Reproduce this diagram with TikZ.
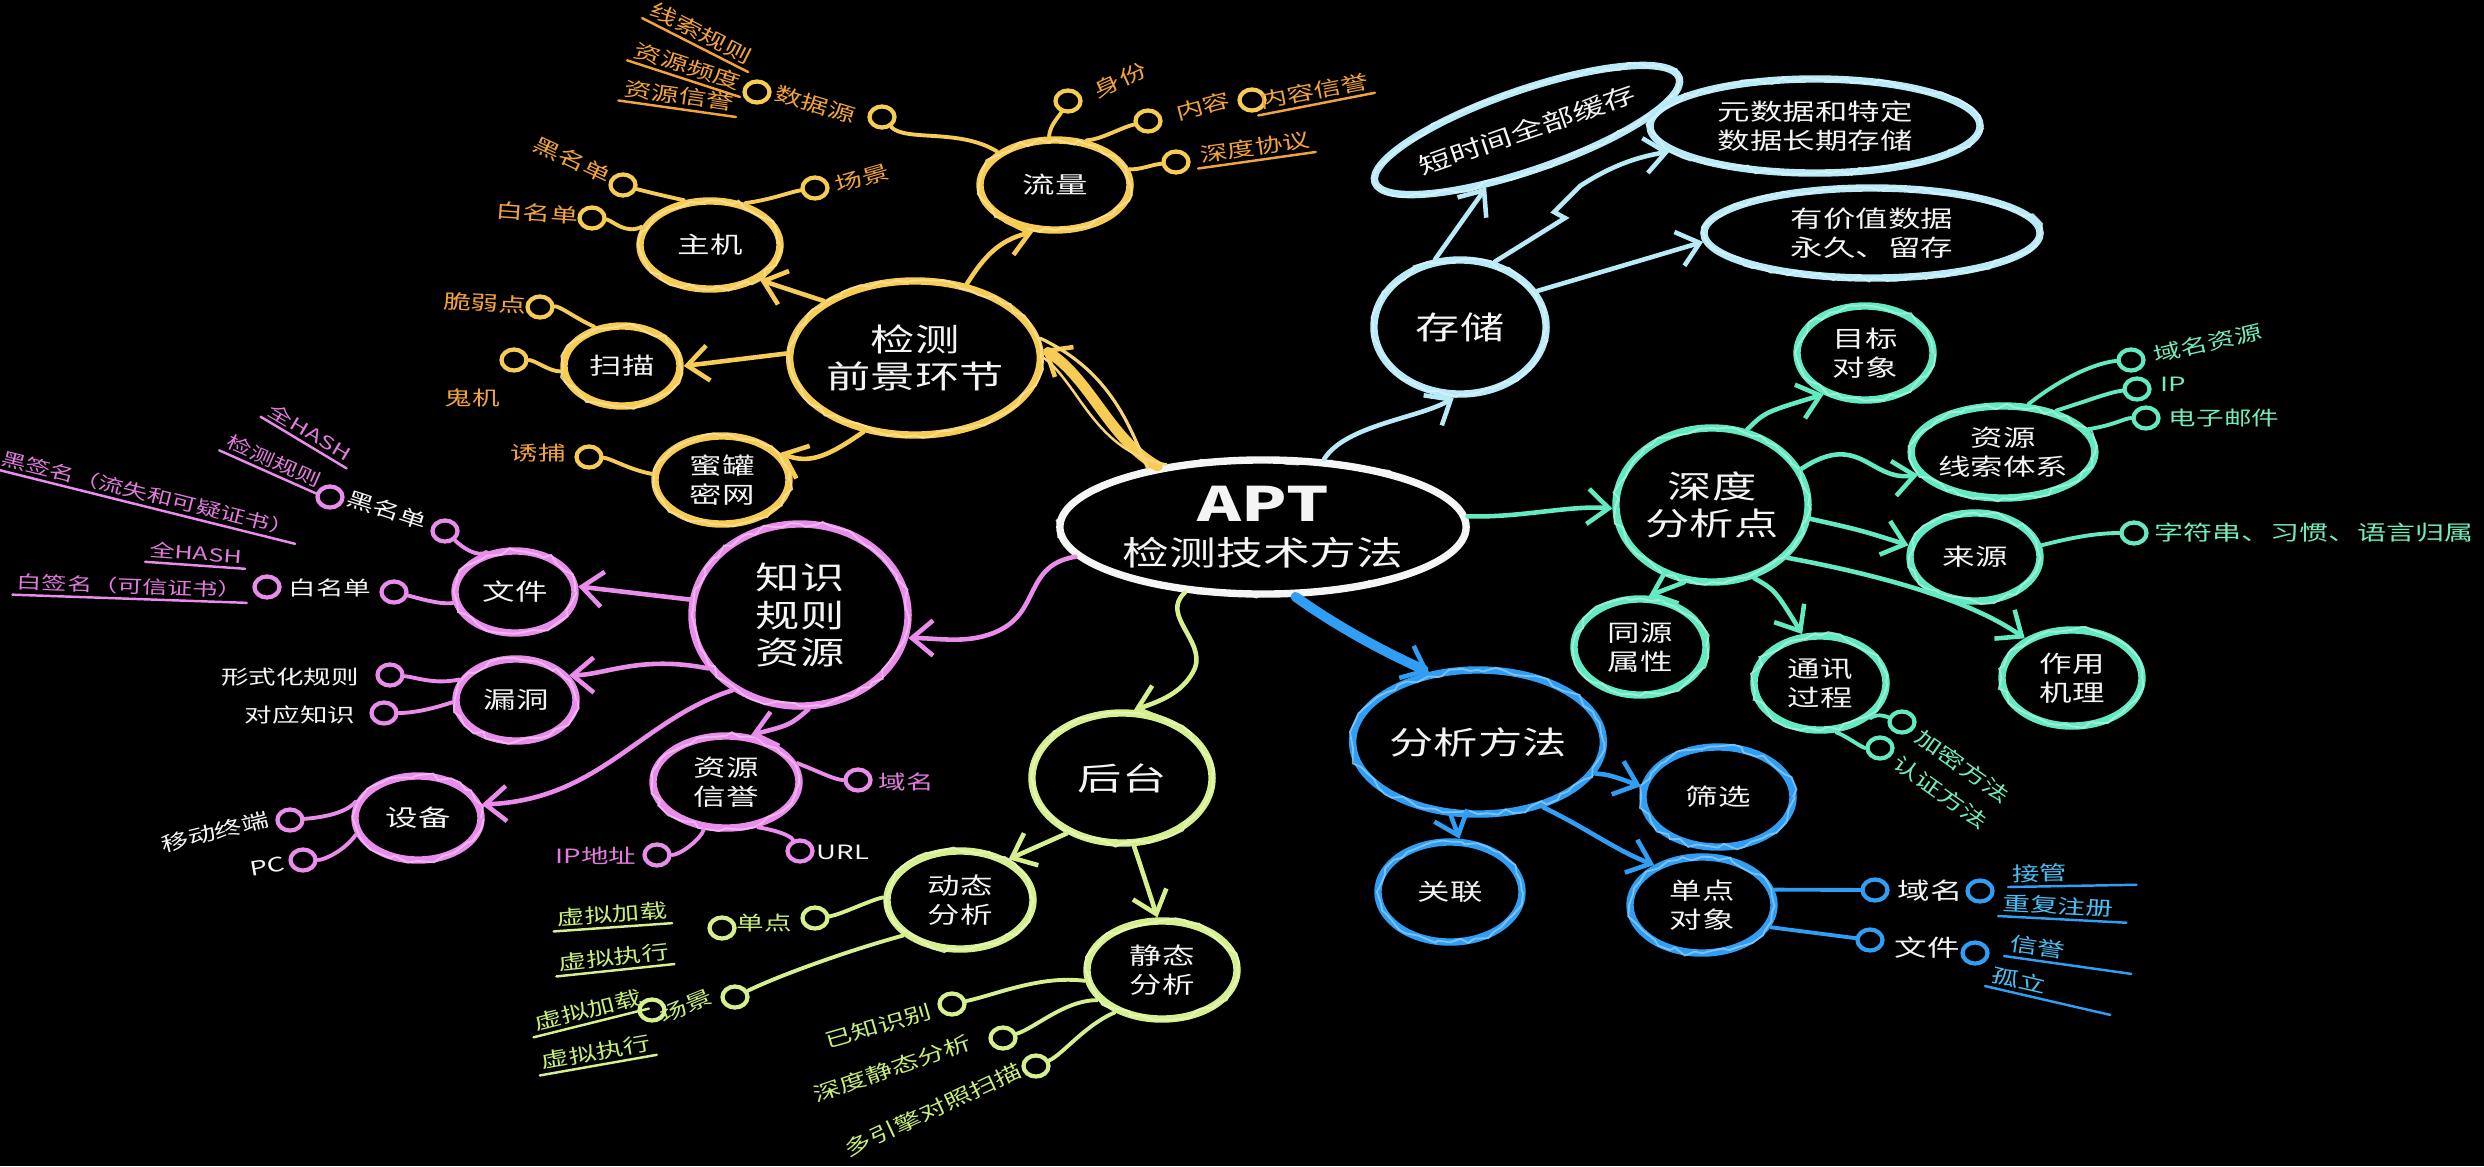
\documentclass[tikz,border=0pt]{standalone}
\usepackage{fontspec}
\setmainfont{Noto Sans CJK SC}[FakeStretch=1.4]
\usetikzlibrary{shapes.geometric,arrows.meta,decorations.pathmorphing}

\definecolor{chalk}{HTML}{F4F4F4}
\definecolor{gold}{HTML}{F6CC55}
\definecolor{amber}{HTML}{F2A43C}
\definecolor{orchid}{HTML}{EA8CEB}
\definecolor{orchidt}{HTML}{E27BDE}
\definecolor{lime}{HTML}{D7F08F}
\definecolor{limet}{HTML}{C8EE78}
\definecolor{sky}{HTML}{B9EAF8}
\definecolor{mint}{HTML}{63EAC2}
\definecolor{mintt}{HTML}{72EDB8}
\definecolor{blu}{HTML}{2F9EF4}
\definecolor{blut}{HTML}{48C0F5}

\newcommand\fntbig{\fontsize{9pt}{10.6pt}\selectfont}
\newcommand\fntmid{\fontsize{6.6pt}{8.3pt}\selectfont}
\newcommand\fntleaf{\fontsize{5.6pt}{6.8pt}\selectfont}
\newcommand\fntsmall{\fontsize{5.1pt}{6.2pt}\selectfont}

\begin{document}
\begin{tikzpicture}[x=0.01cm, y=-0.01cm,
  bub/.style={ellipse, draw=#1, line width=2.1pt, text=chalk, align=center, inner sep=0pt,
    postaction={draw=#1!55!white, line width=0.5pt, opacity=0.85, decorate,
      decoration={random steps, segment length=2.5pt, amplitude=1pt}}},
  ring/.style={ellipse, draw=#1, line width=1.2pt, minimum width=0.25cm, minimum height=0.21cm, inner sep=0pt},
  lf/.style={text=#1, font=\fntleaf, inner sep=1pt},
  ul/.style={append after command={(\tikzlastnode.south west) edge[draw=#1, line width=0.7pt, line cap=round] (\tikzlastnode.south east)}},
  ln/.style={draw=#1, line width=1.1pt, line cap=round},
  ar/.style={draw=#1, line width=1.3pt, line cap=round, -{Straight Barb[length=6pt, width=10pt, line width=1.3pt]}},
]
\fill[black] (0,0) rectangle (2484,1166);
\useasboundingbox (0,0) rectangle (2484,1166);

% ---------- centre ----------
\node[bub=chalk, minimum width=4.06cm, minimum height=1.34cm, font=\fontsize{9.5pt}{12.5pt}\selectfont] (apt) at (1263,527)
  {{\fontsize{13.5pt}{14pt}\selectfont\bfseries APT}\\检测技术方法};

% ---------- front-end detection (gold) ----------
\node[bub=gold, minimum width=2.36cm, minimum height=1.54cm, font=\fntbig] (jc) at (915,358) {检测\\前景环节};
\node[bub=gold, minimum width=1.50cm, minimum height=0.90cm, font=\fntmid] (ll) at (1055,185) {流量};
\node[bub=gold, minimum width=1.40cm, minimum height=0.88cm, font=\fntmid] (zj) at (710,245) {主机};
\node[bub=gold, minimum width=1.16cm, minimum height=0.80cm, font=\fntmid] (sm) at (622,366) {扫描};
\node[bub=gold, minimum width=1.34cm, minimum height=0.88cm, font=\fntmid] (mg) at (722,480) {蜜罐\\密网};

\node[ring=gold] (o1) at (1068,101) {};
\node[lf=amber, rotate=24] (o1t) at (1120,80) {身份};
\node[ring=gold] (o2) at (1148,121) {};
\node[lf=amber, rotate=15] (o2t) at (1203,106) {内容};
\node[ring=gold] (o2b) at (1252,100) {};
\node[lf=amber, rotate=11, ul=amber] (o2c) at (1314,91) {内容信誉};
\node[ring=gold] (o3) at (1176,162) {};
\node[lf=amber, rotate=8, ul=amber] (o3t) at (1255,147) {深度协议};

\node[ring=gold] (o4) at (882,117) {};
\node[lf=amber, rotate=-17] (o4t) at (815,104) {数据源};
\node[ring=gold] (o5) at (757,92) {};
\node[lf=amber, rotate=-27, anchor=south east, ul=amber] (o5a) at (748,72) {线索规则};
\node[lf=amber, rotate=-18, anchor=south east, ul=amber] (o5b) at (740,97) {资源频度};
\node[lf=amber, rotate=-8, anchor=south east, ul=amber] (o5c) at (736,117) {资源信誉};

\node[ring=gold] (o6) at (623,185) {};
\node[lf=amber, rotate=-25] (o6t) at (572,160) {黑名单};
\node[ring=gold] (o7) at (592,218) {};
\node[lf=amber, rotate=-4] (o7t) at (537,213) {白名单};
\node[ring=gold] (o8) at (815,188) {};
\node[lf=amber, rotate=16] (o8t) at (862,178) {场景};
\node[ring=gold] (o9) at (540,307) {};
\node[lf=amber, rotate=-3] (o9t) at (485,303) {脆弱点};
\node[ring=gold] (o10) at (514,360) {};
\node[lf=amber] (o10t) at (472,398) {鬼机};
\node[ring=gold] (o11) at (589,457) {};
\node[lf=amber] (o11t) at (538,453) {诱捕};

\draw[ln=gold] (ll.97) .. controls (1050,125) and (1058,118) .. (o1);
\draw[ln=gold] (ll.55) .. controls (1100,140) and (1120,128) .. (o2);
\draw[ln=gold] (ll.12) .. controls (1140,170) and (1150,165) .. (o3);
\draw[ln=gold] (o4) .. controls (905,142) and (960,128) .. (ll.150);
\draw[ln=gold] (zj.120) .. controls (660,195) and (640,190) .. (o6);
\draw[ln=gold] (zj.165) .. controls (625,235) and (612,220) .. (o7);
\draw[ln=gold] (zj.50) .. controls (770,200) and (790,192) .. (o8);
\draw[ln=gold] (sm.125) .. controls (575,318) and (560,306) .. (o9);
\draw[ln=gold] (sm.185) .. controls (550,372) and (535,360) .. (o10);
\draw[ln=gold] (mg.175) .. controls (630,470) and (610,458) .. (o11);

\draw[ar=gold] (jc.55) .. controls (985,255) and (1000,240) .. (ll.-115);
\draw[ar=gold] (jc.148) -- (zj.-35);
\draw[ar=gold] (jc.178) -- (sm.east);
\draw[ar=gold] (jc.-125) .. controls (830,455) and (810,465) .. (mg.25);
\draw[ar=gold, line width=3pt] (apt.150) .. controls (1110,440) and (1090,378) .. (jc.4);
\draw[gold!80!white, line width=0.9pt, line cap=round] (apt.153) .. controls (1130,428) and (1112,372) .. (jc.9);
\draw[gold!80!white, line width=0.7pt, line cap=round] (apt.147) .. controls (1095,452) and (1080,385) .. (jc.0);

% ---------- knowledge and rules (orchid) ----------
\node[bub=orchid, minimum width=2.16cm, minimum height=1.82cm, font=\fntbig] (zs) at (800,615) {知识\\规则\\资源};
\node[bub=orchid, minimum width=1.20cm, minimum height=0.82cm, font=\fntmid] (wj) at (515,592) {文件};
\node[bub=orchid, minimum width=1.20cm, minimum height=0.82cm, font=\fntmid] (ld) at (516,700) {漏洞};
\node[bub=orchid, minimum width=1.46cm, minimum height=0.92cm, font=\fntmid] (zy) at (726,782) {资源\\信誉};
\node[bub=orchid, minimum width=1.26cm, minimum height=0.84cm, font=\fntmid] (sb) at (418,818) {设备};

\node[ring=orchid] (p1) at (445,531) {};
\node[lf=chalk, rotate=-18] (p1t) at (387,510) {黑名单};
\node[ring=orchid] (p2) at (330,497) {};
\node[lf=orchidt, rotate=-31, ul=orchid, font=\fntsmall] (p2a) at (310,432) {全HASH};
\node[lf=orchidt, rotate=-24, ul=orchid, font=\fntsmall] (p2b) at (274,461) {检测规则};
\node[lf=orchidt, rotate=-14, ul=orchid, font=\fntsmall] (p2c) at (148,494) {黑签名（流失和可疑证书）};
\node[ring=orchid] (p3) at (394,592) {};
\node[lf=chalk] (p3t) at (330,588) {白名单};
\node[ring=orchid] (p4) at (267,587) {};
\node[lf=orchidt, rotate=-4, ul=orchid, font=\fntsmall] (p4a) at (196,553) {全HASH};
\node[lf=orchidt, rotate=-2, ul=orchid, font=\fntsmall] (p4b) at (130,586) {白签名（可信证书）};

\node[ring=orchid] (p5) at (390,675) {};
\node[lf=chalk] (p5t) at (290,677) {形式化规则};
\node[ring=orchid] (p6) at (384,713) {};
\node[lf=chalk] (p6t) at (300,715) {对应知识};
\node[ring=orchid] (p7) at (858,780) {};
\node[lf=orchidt] (p7t) at (906,782) {域名};
\node[ring=orchid] (p8) at (657,855) {};
\node[lf=orchidt] (p8t) at (596,856) {IP地址};
\node[ring=orchid] (p9) at (800,851) {};
\node[lf=chalk] (p9t) at (843,852) {URL};
\node[ring=orchid] (p10) at (290,820) {};
\node[lf=chalk, rotate=14] (p10t) at (215,832) {移动终端};
\node[ring=orchid] (p11) at (303,860) {};
\node[lf=chalk, rotate=10] (p11t) at (267,866) {PC};

\draw[ln=orchid] (wj.125) .. controls (478,558) and (463,548) .. (p1);
\draw[ln=orchid] (wj.190) .. controls (440,605) and (418,598) .. (p3);
\draw[ln=orchid] (ld.160) .. controls (435,685) and (415,677) .. (p5);
\draw[ln=orchid] (ld.182) .. controls (435,708) and (415,713) .. (p6);
\draw[ln=orchid] (zy.15) .. controls (820,772) and (835,780) .. (p7);
\draw[ln=orchid] (zy.-115) .. controls (700,840) and (680,855) .. (p8);
\draw[ln=orchid] (zy.-55) .. controls (775,830) and (790,835) .. (p9);
\draw[ln=orchid] (sb.165) .. controls (345,815) and (315,818) .. (p10);
\draw[ln=orchid] (sb.195) .. controls (345,850) and (325,860) .. (p11);

\draw[ar=orchid] (apt.189) .. controls (1025,565) and (1040,610) .. (1000,630) .. controls (970,645) and (940,638) .. (zs.-12);
\draw[ar=orchid] (zs.172) -- (wj.5);
\draw[ar=orchid] (zs.210) .. controls (640,655) and (605,675) .. (ld.25);
\draw[ar=orchid] (zs.-85) .. controls (790,725) .. (zy.62);
\draw[ar=orchid] (zs.228) .. controls (640,720) and (600,800) .. (sb.12);

% ---------- back end (lime) ----------
\node[bub=lime, minimum width=1.80cm, minimum height=1.30cm, font=\fntbig] (ht) at (1122,778) {后台};
\node[bub=lime, minimum width=1.46cm, minimum height=0.98cm, font=\fntmid] (dt) at (960,900) {动态\\分析};
\node[bub=lime, minimum width=1.50cm, minimum height=0.98cm, font=\fntmid] (jt) at (1162,970) {静态\\分析};

\node[ring=lime] (g1) at (815,918) {};
\node[lf=limet] (g1t) at (764,923) {单点};
\node[ring=lime] (g2) at (722,928) {};
\node[lf=limet, rotate=4, ul=lime] (g2a) at (612,914) {虚拟加载};
\node[lf=limet, rotate=6, ul=lime] (g2b) at (614,957) {虚拟执行};
\node[ring=lime] (g3) at (735,997) {};
\node[lf=limet, rotate=22] (g3t) at (686,1006) {场景};
\node[ring=lime] (g4) at (652,1010) {};
\node[lf=limet, rotate=14, ul=lime] (g4a) at (588,1010) {虚拟加载};
\node[lf=limet, rotate=10, ul=lime] (g4b) at (596,1052) {虚拟执行};
\node[ring=lime] (g5) at (952,1004) {};
\node[lf=limet, rotate=16] (g5t) at (878,1026) {已知识别};
\node[ring=lime] (g6) at (1003,1038) {};
\node[lf=limet, rotate=19] (g6t) at (892,1068) {深度静态分析};
\node[ring=lime] (g7) at (1036,1066) {};
\node[lf=limet, rotate=25] (g7t) at (933,1110) {多引擎对照扫描};

\draw[ln=lime] (dt.178) .. controls (870,900) and (840,915) .. (g1);
\draw[ln=lime] (dt.212) .. controls (850,950) and (780,975) .. (g3);
\draw[ln=lime] (jt.188) .. controls (1040,975) and (995,995) .. (g5);
\draw[ln=lime] (jt.205) .. controls (1065,1000) and (1035,1028) .. (g6);
\draw[ln=lime] (jt.222) .. controls (1085,1025) and (1062,1055) .. (g7);

\draw[ar=lime] (apt.220) .. controls (1160,615) and (1205,640) .. (1195,668) .. controls (1185,690) and (1165,700) .. (ht.80);
\draw[ar=lime] (ht.-135) -- (dt.40);
\draw[ar=lime] (ht.-80) .. controls (1142,870) and (1150,895) .. (jt.95);

% ---------- storage (sky) ----------
\node[bub=sky, minimum width=1.72cm, minimum height=1.34cm, font=\fntbig] (cc) at (1460,327) {存储};
\node[bub=sky, rotate=19, minimum width=3.10cm, minimum height=0.80cm, font=\fntmid] (dc) at (1527,130) {短时间全部缓存};
\node[bub=sky, minimum width=3.30cm, minimum height=0.94cm, font=\fntmid] (ys) at (1815,126) {元数据和特定\\数据长期存储};
\node[bub=sky, minimum width=3.36cm, minimum height=0.90cm, font=\fntmid] (yj) at (1872,233) {有价值数据\\永久、留存};

\draw[ar=sky] (apt.48) .. controls (1345,425) and (1420,418) .. (cc.-95);
\draw[ar=sky] (cc.110) -- (dc);
\draw[ar=sky] (cc.62) -- (1565,218) -- (1554,212) -- (1580,186) .. controls (1605,170) and (1630,158) .. (ys.190);
\draw[ar=sky] (cc.25) -- (yj.183);

% ---------- deep analysis points (mint) ----------
\node[bub=mint, minimum width=1.92cm, minimum height=1.54cm, font=\fntbig] (sd) at (1712,505) {深度\\分析点};
\node[bub=mint, minimum width=1.36cm, minimum height=0.94cm, font=\fntmid] (mb) at (1865,353) {目标\\对象};
\node[bub=mint, minimum width=1.68cm, minimum height=0.92cm, font=\fntmid] (zx) at (2003,452) {资源\\线索体系};
\node[bub=mint, minimum width=1.30cm, minimum height=0.88cm, font=\fntmid] (ly) at (1975,557) {来源};
\node[bub=mint, minimum width=1.32cm, minimum height=0.96cm, font=\fntmid] (ty) at (1640,647) {同源\\属性};
\node[bub=mint, minimum width=1.32cm, minimum height=0.94cm, font=\fntmid] (tx) at (1820,683) {通讯\\过程};
\node[bub=mint, minimum width=1.40cm, minimum height=0.96cm, font=\fntmid] (jl) at (2072,678) {作用\\机理};

\node[ring=mint] (t1) at (2131,360) {};
\node[lf=mintt, rotate=13] (t1t) at (2208,343) {域名资源};
\node[ring=mint] (t2) at (2137,389) {};
\node[lf=mintt] (t2t) at (2173,384) {IP};
\node[ring=mint] (t3) at (2146,418) {};
\node[lf=mintt] (t3t) at (2224,418) {电子邮件};
\node[ring=mint] (t4) at (2134,533) {};
\node[lf=mintt, anchor=west, font=\fontsize{5.9pt}{7pt}\selectfont] (t4t) at (2150,533) {字符串、习惯、语言归属};
\node[ring=mint] (t5) at (1902,722) {};
\node[lf=mintt, rotate=-35, anchor=west] (t5t) at (1914,732) {加密方法};
\node[ring=mint] (t6) at (1880,748) {};
\node[lf=mintt, rotate=-35, anchor=west] (t6t) at (1892,758) {认证方法};

\draw[ln=mint] (zx.62) .. controls (2065,375) and (2100,362) .. (t1);
\draw[ln=mint] (zx.38) .. controls (2090,400) and (2110,392) .. (t2);
\draw[ln=mint] (zx.15) .. controls (2115,425) and (2125,418) .. (t3);
\draw[ln=mint] (ly.10) .. controls (2070,538) and (2095,533) .. (t4);
\draw[ln=mint] (tx.-35) .. controls (1878,712) and (1890,718) .. (t5);
\draw[ln=mint] (tx.-72) .. controls (1845,735) and (1862,748) .. (t6);

\draw[ar=mint] (apt.3) .. controls (1520,518) and (1570,505) .. (sd.182);
\draw[ar=mint] (sd.65) .. controls (1765,412) .. (mb.-135);
\draw[ar=mint] (sd.22) .. controls (1860,430) and (1870,482) .. (zx.195);
\draw[ar=mint] (sd.-8) .. controls (1860,530) .. (ly.170);
\draw[ar=mint] (sd.-110) -- (ty.80);
\draw[ar=mint] (sd.-60) .. controls (1775,590) .. (tx.110);
\draw[ar=mint] (sd.-35) .. controls (1880,575) and (1970,600) .. (jl.140);

% ---------- analysis methods (blue) ----------
\node[bub=blu, minimum width=2.42cm, minimum height=1.44cm, font=\fntbig] (fx) at (1478,742) {分析方法};
\node[bub=blu, minimum width=1.50cm, minimum height=1.00cm, font=\fntmid] (sx) at (1718,797) {筛选};
\node[bub=blu, minimum width=1.44cm, minimum height=1.00cm, font=\fntmid] (gl) at (1450,892) {关联};
\node[bub=blu, minimum width=1.44cm, minimum height=0.96cm, font=\fntmid] (dd) at (1702,905) {单点\\对象};

\node[ring=blu] (b1) at (1875,890) {};
\node[lf=chalk, font=\fntmid] (b1t) at (1930,891) {域名};
\node[ring=blu] (b2) at (1980,891) {};
\node[lf=blut, ul=blu, text width=1.2cm, align=left, anchor=south west, rotate=1] (b2a) at (2008,887) {接管};
\node[lf=blut, ul=blu, text width=1.2cm, align=left, anchor=south west, rotate=-3] (b2b) at (1998,916) {重复注册};
\node[ring=blu] (b3) at (1870,940) {};
\node[lf=chalk, font=\fntmid] (b3t) at (1927,948) {文件};
\node[ring=blu] (b4) at (1975,953) {};
\node[lf=blut, ul=blu, text width=1.2cm, align=left, anchor=south west, rotate=-8] (b4a) at (2004,956) {信誉};
\node[lf=blut, ul=blu, text width=1.2cm, align=left, anchor=south west, rotate=-13] (b4b) at (1985,986) {孤立};

\draw[ln=blu] (dd.12) -- (b1);
\draw[ln=blu] (dd.-18) -- (b3);

\draw[ar=blu, line width=2.8pt] (apt.-65) .. controls (1335,625) and (1380,650) .. (fx.125);
\draw[ar=blu] (fx.-15) .. controls (1610,775) .. (sx.172);
\draw[ar=blu] (fx.-110) -- (gl.80);
\draw[ar=blu] (fx.-45) .. controls (1590,830) and (1615,850) .. (dd.140);
\end{tikzpicture}
\end{document}
